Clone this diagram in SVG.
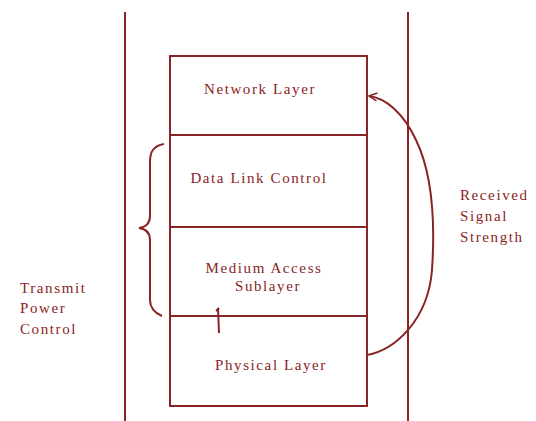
<svg xmlns="http://www.w3.org/2000/svg" width="536" height="421" viewBox="0 0 536 421">
<style>
.ln{stroke:#8a2424;stroke-width:2;fill:none}
.bx{stroke:#8a2424;stroke-width:2;fill:#fff}
.t{font-family:'Liberation Serif','DejaVu Serif',serif;font-size:15px;letter-spacing:1.6px;fill:#8a2424}
</style>
<defs>
<marker id="ah" markerWidth="10" markerHeight="10" refX="9" refY="5" orient="auto" markerUnits="userSpaceOnUse">
<path d="M1,1 L9,5 L1,9" fill="none" stroke="#8a2424" stroke-width="1.5"/>
</marker>
</defs>
<rect width="536" height="421" fill="#fff"/>
<g id="walls">
<line class="ln" x1="125" y1="12" x2="125" y2="421"/>
<line class="ln" x1="408" y1="12" x2="408" y2="421"/>
</g>
<g id="network">
<rect class="bx" x="170" y="56" width="197" height="79"/>
<text class="t" x="260" y="94" text-anchor="middle">Network Layer</text>
</g>
<g id="dlc">
<rect class="bx" x="170" y="135" width="197" height="92"/>
<text class="t" x="259" y="183" text-anchor="middle">Data Link Control</text>
</g>
<g id="mac">
<rect class="bx" x="170" y="227" width="197" height="89"/>
<text class="t" x="264" y="273" text-anchor="middle">Medium Access</text>
<text class="t" x="268" y="291" text-anchor="middle">Sublayer</text>
</g>
<g id="phy">
<rect class="bx" x="170" y="316" width="197" height="90"/>
<text class="t" x="271" y="370" text-anchor="middle">Physical Layer</text>
</g>
<g id="rss">
<text class="t" x="460" y="200">Received</text>
<text class="t" x="460" y="221">Signal</text>
<text class="t" x="460" y="242">Strength</text>
</g>
<g id="tpc">
<text class="t" x="20" y="293">Transmit</text>
<text class="t" x="20" y="313">Power</text>
<text class="t" x="20" y="334">Control</text>
</g>
<g id="connectors">
<path class="ln" stroke-width="1.5" d="M164,144 C153,146 150,152 150,162 L150,216 C150,224 146,227 139,228 C146,229 150,232 150,240 L150,300 C150,308 155,313 162,316"/>
<path class="ln" stroke-width="1.5" d="M218,308 L219,333 M216,311 L219,308"/>
<path class="ln" stroke-width="1.5" marker-end="url(#ah)" d="M367,355 C395,350 428,320 432,270 C435,225 433,175 416,140 C403,112 385,98 369,96"/>
</g>
</svg>
